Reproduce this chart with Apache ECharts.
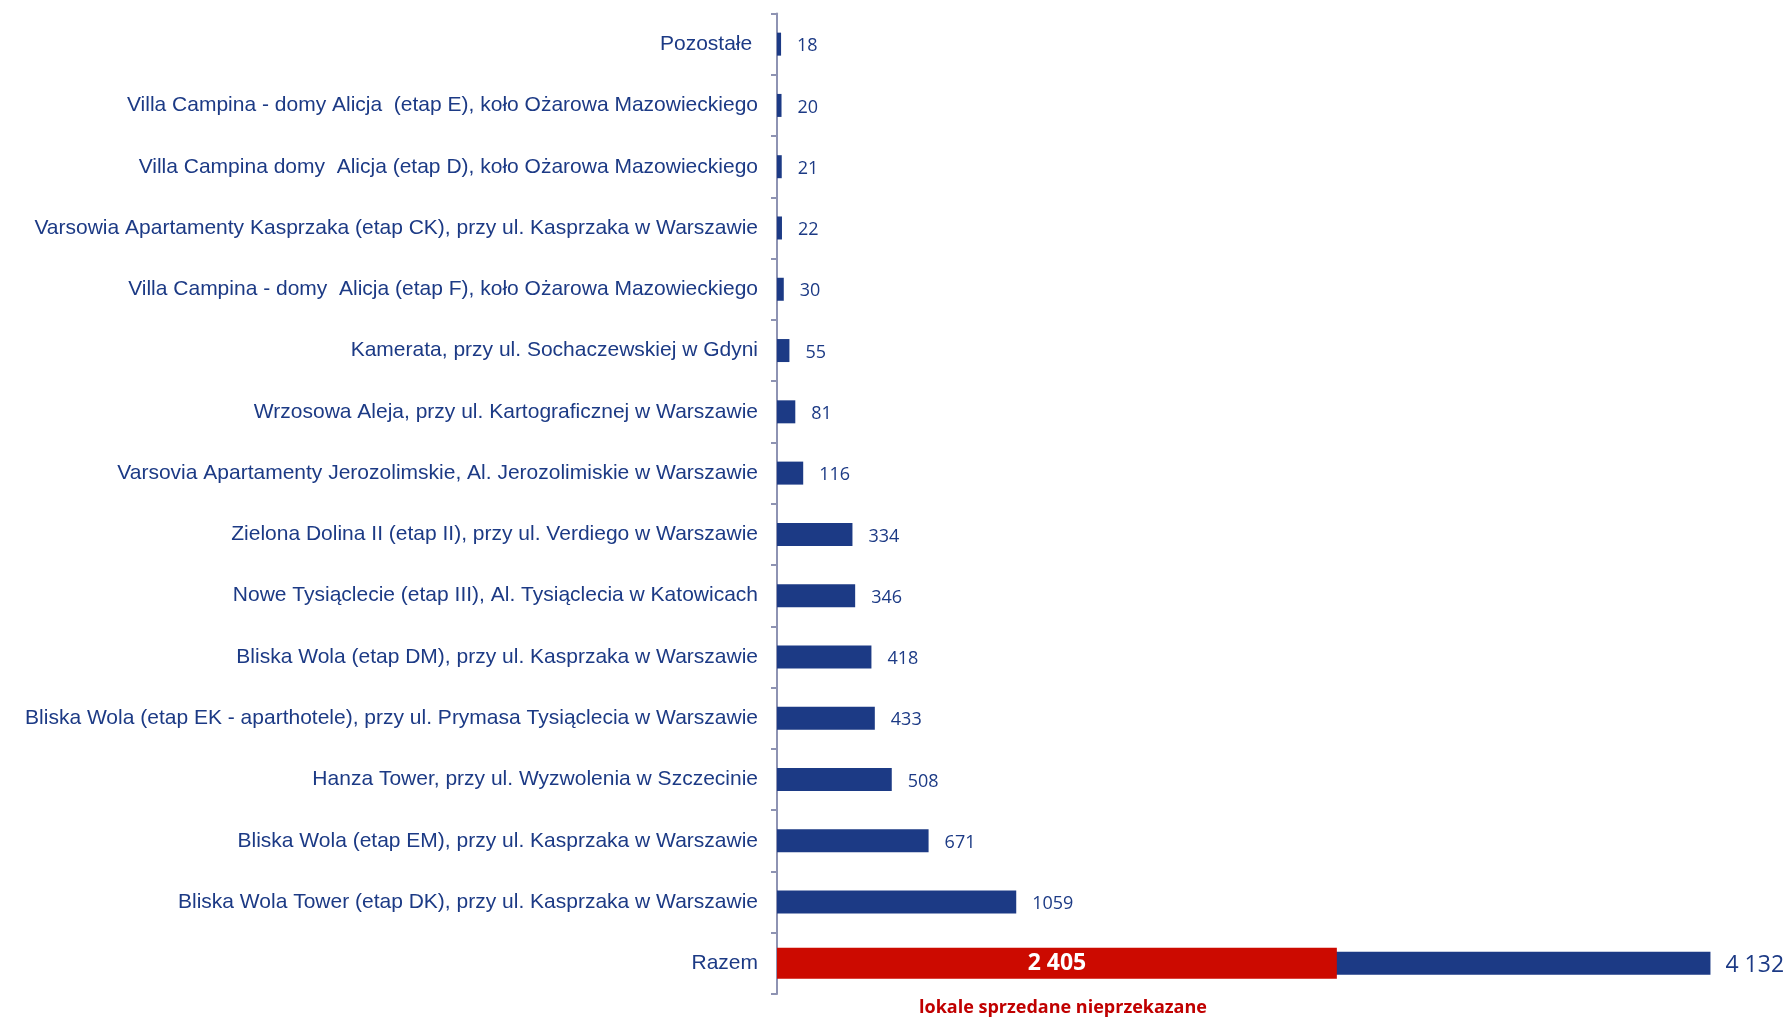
<!DOCTYPE html>
<html>
<head>
<meta charset="utf-8">
<script src="https://cdn.jsdelivr.net/npm/echarts@6/dist/echarts.min.js"></script>
<style>
html,body{margin:0;padding:0;background:#fff;}
#chart{width:1790px;height:1018px;}
</style>
</head>
<body>
<div id="chart"></div>
<script>
const categories = [
  "Pozostałe ",
  "Villa Campina - domy Alicja  (etap E), koło Ożarowa Mazowieckiego",
  "Villa Campina domy  Alicja (etap D), koło Ożarowa Mazowieckiego",
  "Varsowia Apartamenty Kasprzaka (etap CK), przy ul. Kasprzaka w Warszawie",
  "Villa Campina - domy  Alicja (etap F), koło Ożarowa Mazowieckiego",
  "Kamerata, przy ul. Sochaczewskiej w Gdyni",
  "Wrzosowa Aleja, przy ul. Kartograficznej w Warszawie",
  "Varsovia Apartamenty Jerozolimskie, Al. Jerozolimiskie w Warszawie",
  "Zielona Dolina II (etap II), przy ul. Verdiego w Warszawie",
  "Nowe Tysiąclecie (etap III), Al. Tysiąclecia w Katowicach",
  "Bliska Wola (etap DM), przy ul. Kasprzaka w Warszawie",
  "Bliska Wola (etap EK - aparthotele), przy ul. Prymasa Tysiąclecia w Warszawie",
  "Hanza Tower, przy ul. Wyzwolenia w Szczecinie",
  "Bliska Wola (etap EM), przy ul. Kasprzaka w Warszawie",
  "Bliska Wola Tower (etap DK), przy ul. Kasprzaka w Warszawie",
  "Razem"
];
const totalValues = [18, 20, 21, 22, 30, 55, 81, 116, 334, 346, 418, 433, 508, 671, 1059, 4132];
const totalLabels = ["18", "20", "21", "22", "30", "55", "81", "116", "334", "346", "418", "433", "508", "671", "1059", "4 132"];
const soldValues = [null, null, null, null, null, null, null, null, null, null, null, null, null, null, null, 2405];
const soldLabels = ["", "", "", "", "", "", "", "", "", "", "", "", "", "", "", "2 405"];
const soldCaption = "lokale sprzedane nieprzekazane";

const BLUE = "#1C3A85";
const RED = "#CC0A00";
const chart = echarts.init(document.getElementById('chart'), null, {renderer: 'canvas'});

const lastIdx = categories.length - 1;
const blueData = totalValues.map((v, i) => {
  if (i === lastIdx) {
    return {value: v, label: {fontSize: 23, distance: 15, offset: [0, 2]}};
  }
  return v;
});

chart.setOption({
  animation: false,
  backgroundColor: '#ffffff',
  grid: {left: 777, right: 19, top: 13.5, bottom: 24, containLabel: false},
  xAxis: [
    {type: 'value', min: 0, max: 4400, show: false},
    {type: 'value', min: 0, max: 4270, show: false}
  ],
  yAxis: [
    {
      type: 'category',
      data: categories,
      inverse: true,
      axisLine: {show: true, lineStyle: {color: '#8E93B3', width: 2}},
      axisTick: {show: true, length: 6, lineStyle: {color: '#8E93B3', width: 2}},
      axisLabel: {
        color: '#1C3A85',
        fontFamily: 'Liberation Sans',
        fontSize: 21,
        margin: 19,
        interval: 0
      },
      splitLine: {show: false}
    },
    {
      type: 'category',
      data: categories,
      inverse: true,
      show: false
    }
  ],
  series: [
    {
      name: 'total',
      type: 'bar',
      xAxisIndex: 0,
      yAxisIndex: 0,
      data: blueData,
      barWidth: 23,
      itemStyle: {color: BLUE},
      label: {
        show: true,
        position: 'right',
        distance: 16,
        offset: [0, 2],
        color: '#1C3A85',
        fontFamily: 'Open Sans',
        fontSize: 18,
        formatter: p => totalLabels[p.dataIndex]
      },
      z: 2
    },
    {
      name: 'sold',
      type: 'bar',
      xAxisIndex: 1,
      yAxisIndex: 1,
      data: soldValues,
      barWidth: 31,
      itemStyle: {color: RED},
      label: {
        show: true,
        position: 'inside',
        color: '#ffffff',
        fontFamily: 'Open Sans',
        fontWeight: 'bold',
        fontSize: 23,
        formatter: p => soldLabels[p.dataIndex]
      },
      z: 3
    }
  ],
  graphic: [
    {
      type: 'text',
      x: 1063,
      y: 1008,
      style: {
        text: soldCaption,
        fill: '#C00000',
        font: 'bold 18px "Open Sans"',
        textAlign: 'center',
        textVerticalAlign: 'middle'
      }
    }
  ]
});
</script>
</body>
</html>
